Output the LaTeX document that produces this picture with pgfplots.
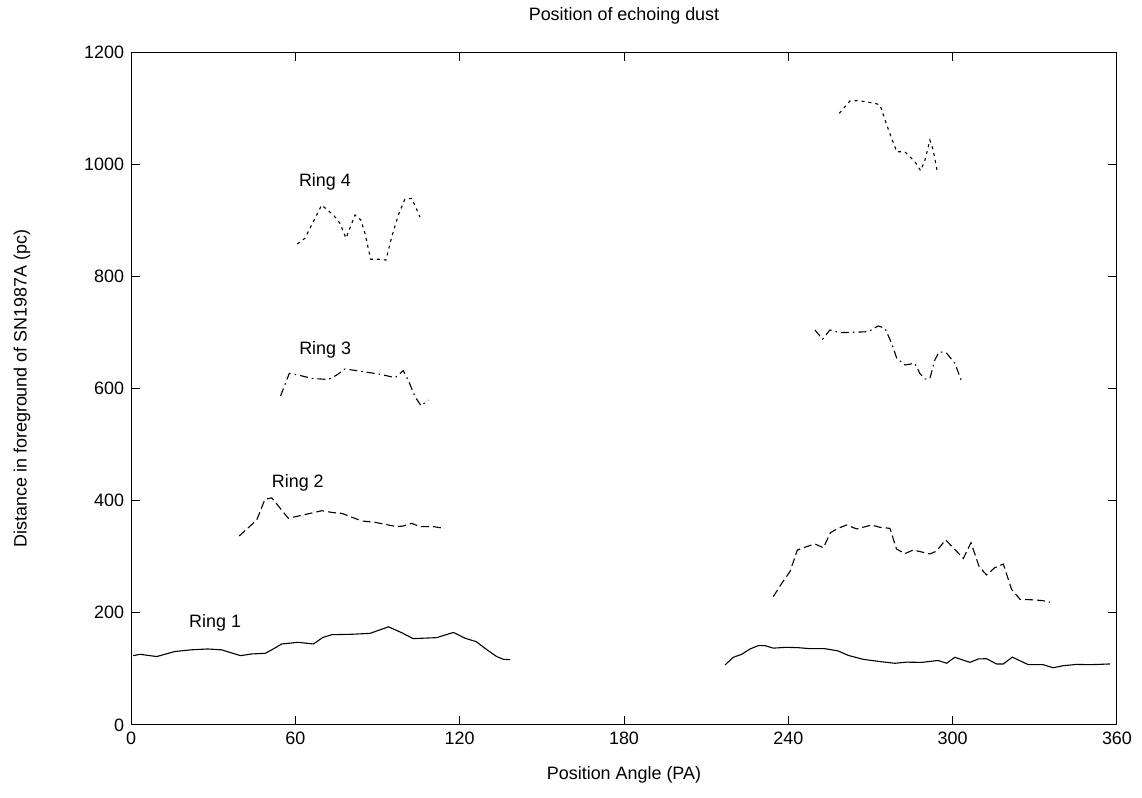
\documentclass[border=0pt]{standalone}
\usepackage{fontspec}
\setmainfont{Liberation Sans}
\usepackage{pgfplots}
\pgfplotsset{compat=1.18}

\pgfplotstableread{
x y
0.8 123.6
3.3 126
9.4 122
16 131
22 134
28 135.5
33 134
40 123.6
44 126.6
49 127.8
51.4 134
55 144.4
61 147.4
66.6 144.4
70 156
73.3 161
80.6 161.7
87.3 163.4
94 175
98.8 164.6
103 154
111.6 155.7
117.7 165
122 154.6
126 148.6
130 134
133.5 122
136 117
138.4 116.5
}\ringoneleft

\pgfplotstableread{
x y
216.9 107
219.9 120.7
223 126
226 135.5
229 141.4
231.5 141.4
234.5 137
239.4 138.5
243.6 137.8
248 136
253.4 136
258.2 132
261.9 124
267.4 117
273.5 113
278.9 110
283.2 112
288.7 111.6
294.7 115
297.8 110
300.8 120.7
306.3 111.6
309.4 117.7
312.4 118.2
316 108.8
318.5 108.8
321.8 121
327.6 107.5
333 107.5
336.7 102
340.4 105.7
345.3 108
350.1 107.5
353.2 108
357.4 108.8
}\ringoneright

\pgfplotstableread{
x y
39.5 337
45.9 365.5
48.9 402.5
51.4 405
57.4 368.6
62.9 374.5
69.6 382
73.9 378.6
76.9 377.4
84.2 363.8
89.1 361.3
97 353.6
99.4 354.8
102.5 359.5
105.5 353.6
110.4 353.6
114.6 350.6
}\ringtwoleft

\pgfplotstableread{
x y
234.5 228.8
237.6 252.6
240.6 273.4
243.3 312
246.7 318
249.7 322.8
252.8 316
255.4 343
258.2 350.6
261.3 356.6
265 349.5
270.4 356.6
273.5 352.4
277.1 350.6
279.5 313.8
282.6 305.6
285.6 312
291.7 305
294.1 310
297.4 330
300.8 313
303.9 297
306.7 325
309.7 282
312.4 267.5
315.4 280.5
318.5 287
321.5 242
324.6 224
330 223
333 221.6
335.5 218.8
}\ringtworight

\pgfplotstableread{
x y
54.6 586.7
57.8 627
61.1 624
66 618
72 616
75.1 624
78.1 634.8
82.4 631.8
90.9 625.4
96.4 619.3
99.4 631.8
101.2 615
103.7 585.4
105.9 569
108.5 579.5
}\ringthreeleft

\pgfplotstableread{
x y
249.7 704.4
252.5 687.8
255.2 704.4
258.9 699.6
263.7 700.2
269.2 701.3
272.8 711.5
275.3 707.4
277.7 680.6
279.6 653.9
282.6 641.9
286.2 645
288 627
289.9 617
291.7 618
293.5 650.9
295.1 665.7
297.8 662.9
300.8 645
303.3 612.2
}\ringthreeright

\pgfplotstableread{
x y
60.7 857.7
63.5 867.8
69.6 927
73.9 909.4
76.3 894.5
78.5 868
81.8 909.4
83.9 900.5
85.4 876.8
87.5 830.5
90.3 830.5
93.1 829
95.2 870.7
97.6 909.4
100 937.5
102.5 939
105.5 906
}\ringfourleft

\pgfplotstableread{
x y
258.6 1090.6
262.5 1112.7
265.5 1113.3
271.6 1108.6
273.5 1105.6
275.3 1078.8
277.7 1046
279.6 1022.3
282.6 1021.8
286.2 1004.5
288.3 988.5
289.9 1007.5
291.7 1043
292.9 1025
294.4 986.6
}\ringfourright

\begin{document}
\begin{tikzpicture}
\begin{axis}[
    scale only axis,
    width=493bp, height=336.5bp,
    xmin=0, xmax=360, ymin=0, ymax=1200,
    xtick={0,60,...,360},
    ytick={0,200,...,1200},
    tick align=inside,
    major tick length=4.5bp,
    axis line style={line width=0.5bp},
    every tick/.style={line width=0.5bp, black},
    /pgf/number format/1000 sep={},
    /pgf/number format/assume math mode=true,
    font=\fontsize{9}{10}\selectfont,
    ticklabel style={font=\fontsize{9}{10}\selectfont},
    title={Position of echoing dust},
    every axis title/.style={at={(0.5,1.0535)}, anchor=center},
    xlabel={Position Angle (PA)},
    every axis x label/.style={at={(0.5,-0.0743)}, anchor=center},
    ylabel={Distance in foreground of SN1987A (pc)},
    every axis y label/.style={at={(-0.1105,0.5)}, anchor=center, rotate=90},
    clip=false,
]
\addplot[black, line width=0.55bp] table[x=x,y=y] {\ringoneleft};
\addplot[black, line width=0.55bp] table[x=x,y=y] {\ringoneright};
\addplot[black, line width=0.55bp, dash pattern=on 4bp off 2bp] table[x=x,y=y] {\ringtwoleft};
\addplot[black, line width=0.55bp, dash pattern=on 4bp off 2bp] table[x=x,y=y] {\ringtworight};
\addplot[black, line width=0.55bp, dash pattern=on 4bp off 2bp on 0.8bp off 2bp] table[x=x,y=y] {\ringthreeleft};
\addplot[black, line width=0.55bp, dash pattern=on 4bp off 2bp on 0.8bp off 2bp] table[x=x,y=y] {\ringthreeright};
\addplot[black, line width=0.55bp, dash pattern=on 1.5bp off 2bp] table[x=x,y=y] {\ringfourleft};
\addplot[black, line width=0.55bp, dash pattern=on 1.5bp off 2bp] table[x=x,y=y] {\ringfourright};
\node at (axis cs:30.7,182) {Ring 1};
\node at (axis cs:60.9,431.5) {Ring 2};
\node at (axis cs:70.9,669.6) {Ring 3};
\node at (axis cs:70.8,968.8) {Ring 4};
\path[draw=none] (rel axis cs:-0.1329,-0.1085) rectangle (rel axis cs:1.0254,1.0773);
\end{axis}
\end{tikzpicture}
\end{document}
